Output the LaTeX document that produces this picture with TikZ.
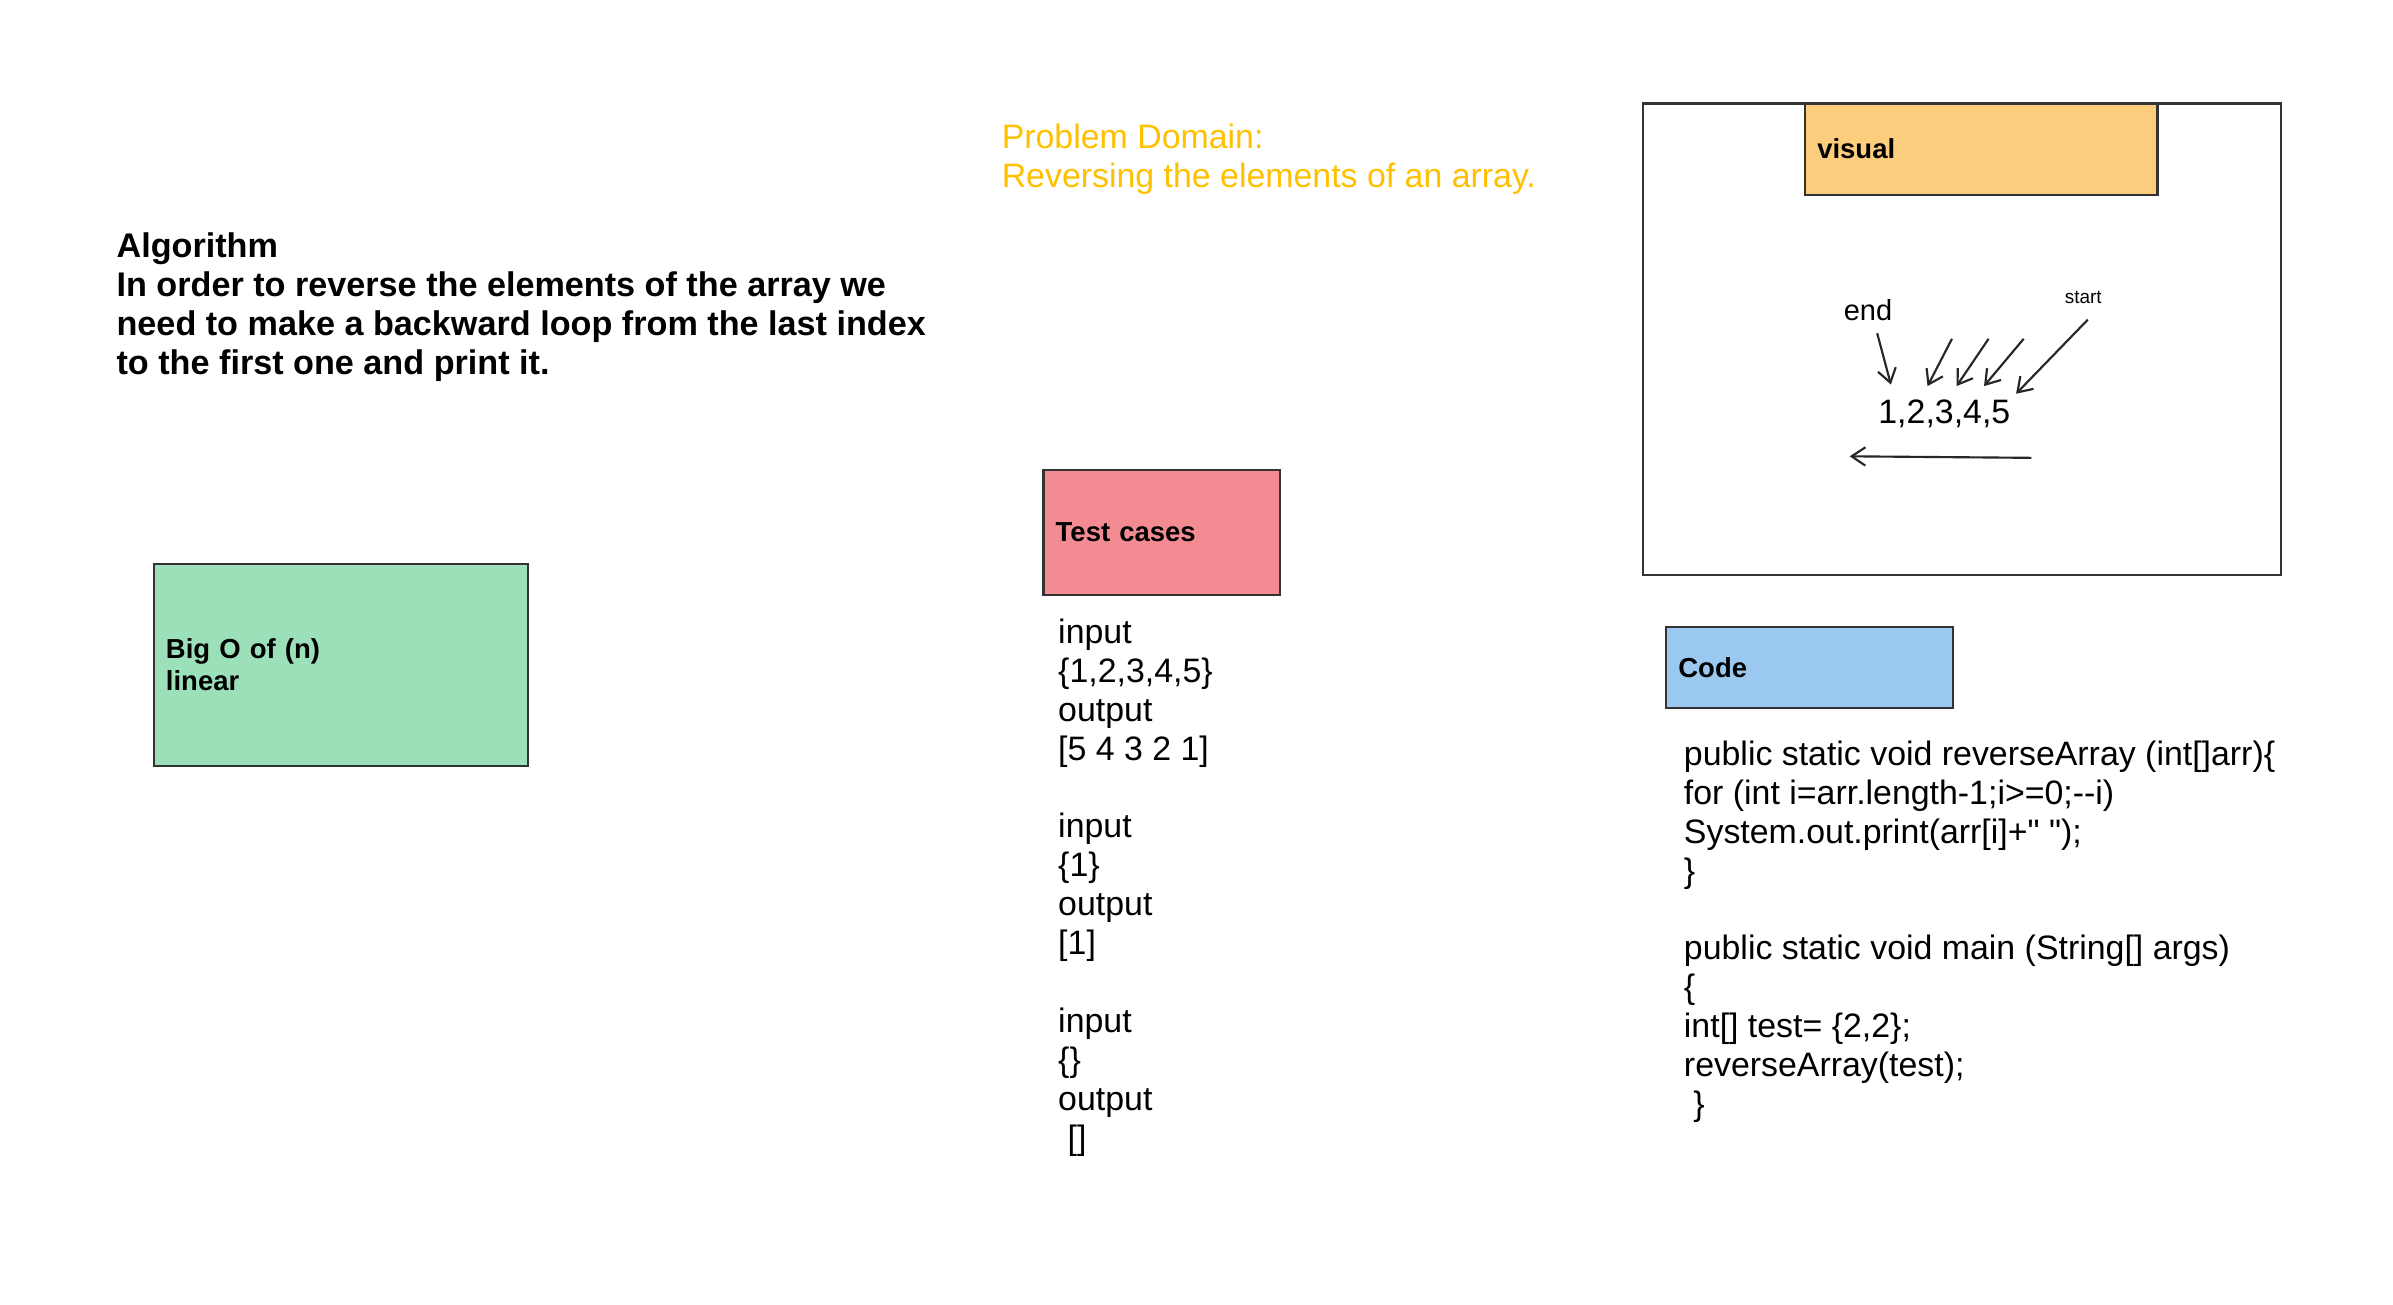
\documentclass[tikz,border=0pt]{standalone}
\usepackage{fontspec}
\setmainfont{Liberation Sans}
\usetikzlibrary{arrows.meta}

\definecolor{boxline}{HTML}{333333}
\definecolor{bigofill}{HTML}{9CE0BA}
\definecolor{testfill}{HTML}{F28B92}
\definecolor{visualfill}{HTML}{FCCD7D}
\definecolor{codefill}{HTML}{9AC8EE}
\definecolor{domaincol}{HTML}{FFC000}

\tikzset{
  card/.style={draw=boxline, line width=0.75pt, anchor=north west, inner ysep=0pt,
               inner xsep=4pt, align=left, font=\bfseries\fontsize{9}{10.5}\selectfont},
  plain/.style={anchor=north west, inner sep=0pt, align=left,
                font=\fontsize{11.1}{12.75}\selectfont},
  ptr/.style={draw=black!85, line width=0.7pt, -{Straight Barb[length=4.5pt,width=6pt]}}
}

\begin{document}
\begin{tikzpicture}[x=0.5pt, y=-0.5pt]
 \useasboundingbox (0,0) rectangle (1568,854.5);

 \node[plain, font=\bfseries\fontsize{11.2}{12.75}\selectfont] (algo) at (76,152)
   {Algorithm\\
    In order to reverse the elements of the array we\\
    need to make a backward loop from the last index\\
    to the first one and print it.};

 \node[card, fill=bigofill, minimum width=122.5pt, minimum height=66pt, text width=114.5pt]
   (bigo) at (100,369) {Big O of (n)\\linear};

 \node[plain, text=domaincol] (domain) at (656,81)
   {Problem Domain:\\Reversing the elements of an array.};

 % test cases
 \node[card, fill=testfill, minimum width=77.5pt, minimum height=41pt, text width=69.5pt]
   (tests) at (683,307) {Test cases};
 \node[plain] (testlist) at (693,405)
   {input\\ \{1,2,3,4,5\}\\ output\\ {[}5 4 3 2 1]\\[12.75pt]
    input\\ \{1\}\\ output\\ {[}1]\\[12.75pt]
    input\\ \{\}\\ output\\ ~{[}]};

 % visual
 \node[draw=boxline, line width=0.75pt, fill=white, anchor=north west, inner sep=0pt,
       minimum width=209pt, minimum height=154.5pt] (frame) at (1076,67) {};
 \node[card, fill=visualfill, minimum width=115.5pt, minimum height=30pt, text width=107.5pt]
   (visual) at (1182,67) {visual};
 \node[inner sep=0pt, font=\fontsize{9.5}{11}\selectfont] (endlbl) at (1224,203) {end};
 \node[inner sep=0pt, font=\fontsize{6.2}{7.5}\selectfont] (startlbl) at (1365,195) {start};
 \node[inner sep=0pt, font=\fontsize{11.1}{13}\selectfont] (digits) at (1274,271) {1,2,3,4,5};

 \coordinate (to1) at (1239,252);
 \draw[ptr] ([xshift=3pt,yshift=-4pt]endlbl.south) -- (to1);
 \foreach \i/\sx/\ex in {2/1279/1263, 3/1303/1282, 4/1326/1300} {
   \coordinate (from\i) at (\sx,222);
   \coordinate (to\i) at (\ex,253);
   \draw[ptr] (from\i) -- (to\i);
 }
 \coordinate (to5) at (1321,258);
 \draw[ptr] ([xshift=1.5pt,yshift=-5pt]startlbl.south) -- (to5);
 \coordinate (loopR) at (1331,300);
 \coordinate (loopL) at (1212,299);
 \draw[ptr] (loopR) -- (loopL);

 % code
 \node[card, fill=codefill, minimum width=94pt, minimum height=26.5pt, text width=86pt]
   (code) at (1091,410) {Code};
 \node[plain] (codetext) at (1103,485)
   {public static void reverseArray (int[]arr)\{\\
    for (int i=arr.length-1;i>=0;-{}-i)\\
    System.out.print(arr[i]+\textquotedbl\ \textquotedbl);\\
    \}\\[12.75pt]
    public static void main (String[] args)\\
    \{\\
    int[] test= \{2,2\};\\
    reverseArray(test);\\
    ~\}};
\end{tikzpicture}
\end{document}
